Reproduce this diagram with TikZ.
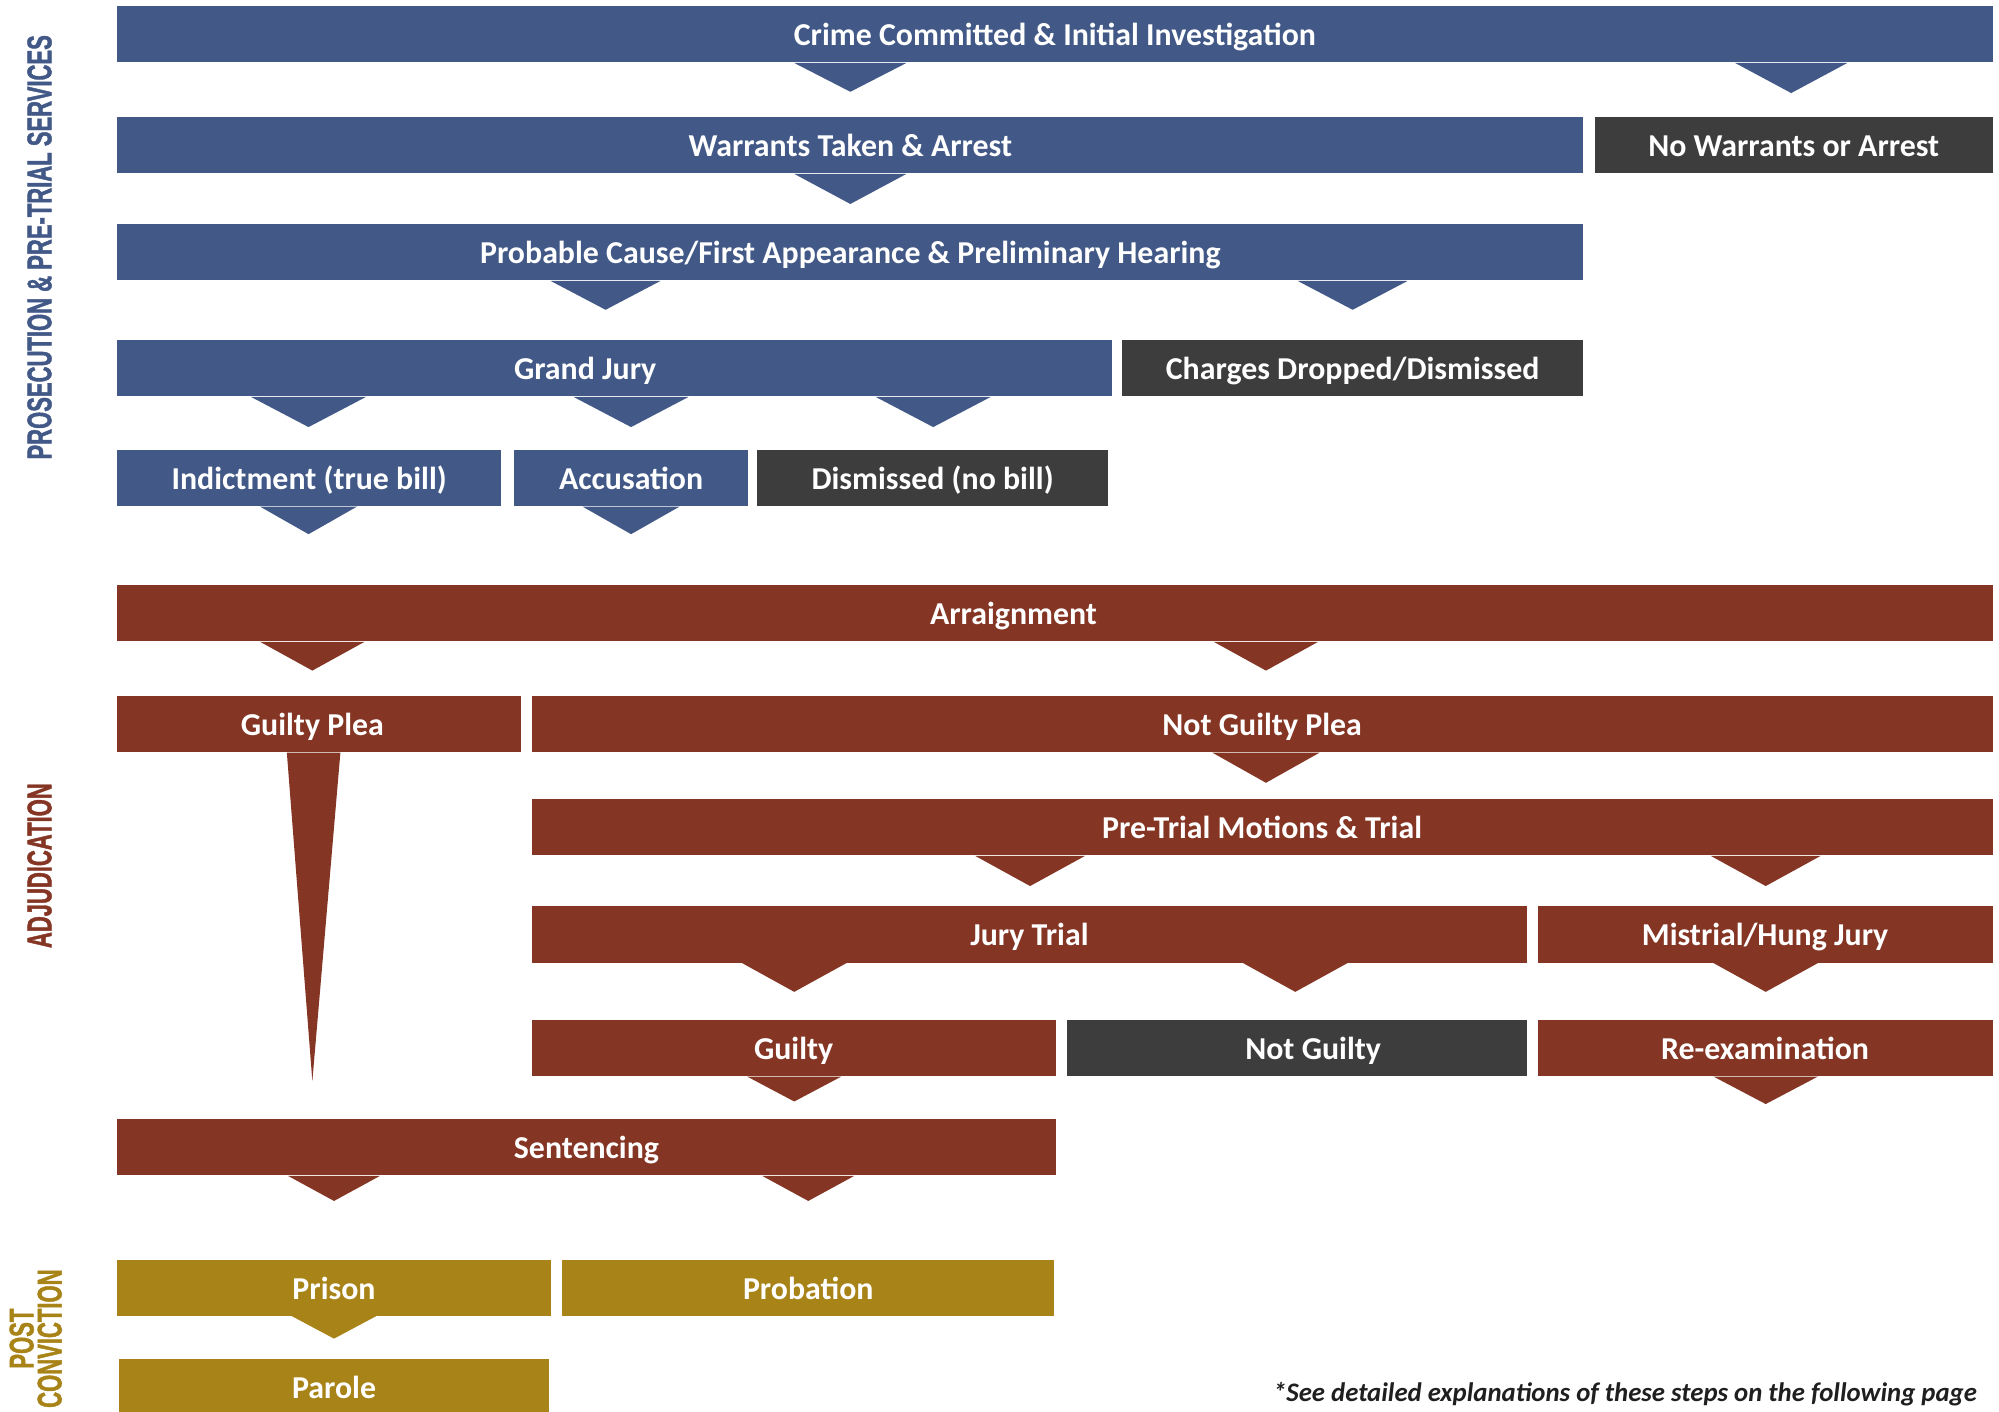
\documentclass[tikz,border=0pt]{standalone}
\usepackage{fontspec}
\setmainfont{Carlito}
\newfontfamily\sidefont{Liberation Sans}[FakeStretch=0.64,FakeBold=1.2]
\usetikzlibrary{calc}
\definecolor{cblue}{HTML}{425987}
\definecolor{cred}{HTML}{843524}
\definecolor{cgray}{HTML}{3D3D3D}
\definecolor{cgold}{HTML}{A88318}
\tikzset{
  stage/.style={anchor=north west, inner sep=0pt, outer sep=0pt, minimum height=44pt,
    text=white, font=\fontsize{25}{25}\selectfont\bfseries, text height=20pt, text depth=2pt},
  sidelabel/.style={rotate=90, inner sep=0pt, font=\sidefont\bfseries\fontsize{27}{22}\selectfont, align=center}
}
% \chev{node}{center x}{half width}{height}{colour}
\newcommand\chev[5]{\fill[#5] (#1.south -| #2,0) ++(-#3,0.4) -- ++(2*#3,0) -- ++(-#3,#4-0.4) -- cycle;}
% text shifted horizontally by #1/2 from the node centre
\newcommand\offtext[2]{\makebox[0pt][c]{\hspace*{#1}#2}}
\begin{document}
\begin{tikzpicture}[x=1pt,y=-1pt]
\useasboundingbox (0,0) rectangle (1568,1107);
% prosecution
\node[stage, fill=cblue, minimum width=1471pt] (crime) at (92,5) {Crime Committed \& Initial Investigation};
\node[stage, fill=cblue, minimum width=1150pt] (warr) at (92,92) {Warrants Taken \& Arrest};
\node[stage, fill=cgray, minimum width=312pt] (nowarr) at (1251,92) {No Warrants or Arrest};
\node[stage, fill=cblue, minimum width=1150pt] (prob) at (92,176) {Probable Cause/First Appearance \& Preliminary Hearing};
\node[stage, fill=cblue, minimum width=780pt] (gj) at (92,267) {\offtext{-46pt}{Grand Jury}};
\node[stage, fill=cgray, minimum width=362pt] (drop) at (880,267) {Charges Dropped/Dismissed};
\node[stage, fill=cblue, minimum width=301pt] (ind) at (92,353) {Indictment (true bill)};
\node[stage, fill=cblue, minimum width=184pt] (acc) at (403,353) {Accusation};
\node[stage, fill=cgray, minimum width=275pt] (dis) at (594,353) {Dismissed (no bill)};
% adjudication
\node[stage, fill=cred, minimum width=1471pt] (arr) at (92,459) {\offtext{-65pt}{Arraignment}};
\node[stage, fill=cred, minimum width=317pt] (gp) at (92,546) {\offtext{-11pt}{Guilty Plea}};
\node[stage, fill=cred, minimum width=1146pt] (ngp) at (417,546) {Not Guilty Plea};
\node[stage, fill=cred, minimum width=1146pt] (ptm) at (417,627) {Pre-Trial Motions \& Trial};
\node[stage, fill=cred, minimum width=781pt] (jt) at (417,711) {Jury Trial};
\node[stage, fill=cred, minimum width=357pt] (mis) at (1206,711) {Mistrial/Hung Jury};
\node[stage, fill=cred, minimum width=411pt] (g) at (417,800) {Guilty};
\node[stage, fill=cgray, minimum width=361pt] (ng) at (837,800) {\offtext{25pt}{Not Guilty}};
\node[stage, fill=cred, minimum width=357pt] (re) at (1206,800) {Re-examination};
\node[stage, fill=cred, minimum width=736pt] (sent) at (92,878) {Sentencing};
% post conviction
\node[stage, fill=cgold, minimum width=340pt] (prison) at (92,988) {Prison};
\node[stage, fill=cgold, minimum width=386pt] (probat) at (441,988) {Probation};
\node[stage, fill=cgold, minimum width=338pt] (parole) at (93,1066) {Parole};
% chevrons
\chev{crime}{667}{44}{23}{cblue}
\chev{crime}{1405}{44}{24}{cblue}
\chev{warr}{667}{44}{24}{cblue}
\chev{prob}{475}{43}{23}{cblue}
\chev{prob}{1061}{43}{23}{cblue}
\chev{gj}{242}{45}{24}{cblue}
\chev{gj}{495}{45}{24}{cblue}
\chev{gj}{732}{45}{24}{cblue}
\chev{ind}{242}{38}{22}{cblue}
\chev{acc}{495}{38}{22}{cblue}
\chev{arr}{245}{41}{23}{cred}
\chev{arr}{993}{41}{23}{cred}
\chev{ngp}{993}{42}{24}{cred}
\chev{ptm}{808}{43}{24}{cred}
\chev{ptm}{1385}{43}{24}{cred}
\chev{jt}{623}{41}{23}{cred}
\chev{jt}{1016}{41}{23}{cred}
\chev{mis}{1385}{41}{23}{cred}
\chev{g}{623}{37}{20}{cred}
\chev{re}{1385}{41}{22}{cred}
\chev{sent}{262}{36}{20}{cred}
\chev{sent}{634}{36}{20}{cred}
\chev{prison}{262}{33}{18}{cgold}
% guilty plea spike
\fill[cred] (gp.south -| 225,0) ++(0,0.4) -- ++(42,0) -- (245,848) -- cycle;
% side labels
\node[sidelabel, text=cblue] (lpro) at (31,194) {PROSECUTION \& PRE-TRIAL SERVICES};
\node[sidelabel, text=cred] (ladj) at (31,679) {ADJUDICATION};
\node[sidelabel, text=cgold] (lpost) at (28,1050) {POST\\CONVICTION};
% footnote
\node[anchor=base east, inner sep=0pt, font=\fontsize{21}{21}\selectfont\bfseries\itshape, text=black!88] (note) at (1551,1099) {*See detailed explanations of these steps on the following page};
\end{tikzpicture}
\end{document}
